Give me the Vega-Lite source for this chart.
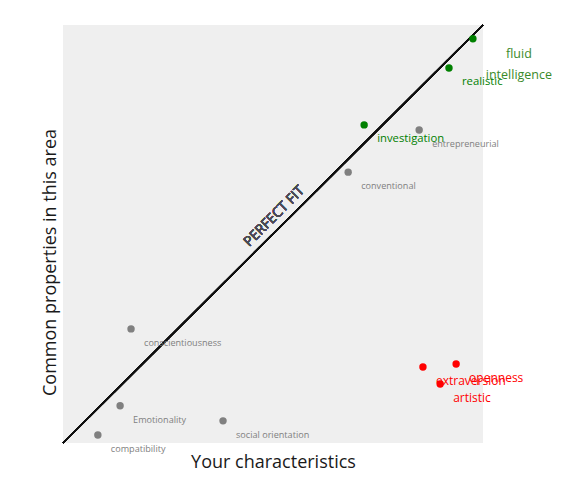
{
  "$schema": "https://vega.github.io/schema/vega-lite/v6.json",
  "autosize": "none",
  "width": 420,
  "height": 418,
  "padding": {"left": 63, "top": 25, "right": 86, "bottom": 41},
  "background": "white",
  "config": {
    "view": {"fill": "#efefef", "stroke": null},
    "font": "Open Sans"
  },
  "data": {
    "values": [
      {"label": "fluid intelligence", "group": "strength", "you": 97.6, "area": 96.7},
      {"label": "realistic", "group": "strength", "you": 91.9, "area": 89.7},
      {"label": "investigation", "group": "strength", "you": 71.7, "area": 76.1},
      {"label": "entrepreneurial", "group": "neutral", "you": 84.8, "area": 74.9},
      {"label": "conventional", "group": "neutral", "you": 67.9, "area": 64.8},
      {"label": "conscientiousness", "group": "neutral", "you": 16.2, "area": 27.3},
      {"label": "Emotionality", "group": "neutral", "you": 13.6, "area": 8.9},
      {"label": "social orientation", "group": "neutral", "you": 38.1, "area": 5.3},
      {"label": "compatibility", "group": "neutral", "you": 8.3, "area": 1.9},
      {"label": "extraversion", "group": "weakness", "you": 85.7, "area": 18.2},
      {"label": "openness", "group": "weakness", "you": 93.6, "area": 18.9},
      {"label": "artistic", "group": "weakness", "you": 89.8, "area": 14.1}
    ]
  },
  "encoding": {
    "x": {
      "field": "you", "type": "quantitative",
      "scale": {"domain": [0, 100], "nice": false, "zero": false},
      "axis": {"title": "Your characteristics", "domain": false, "ticks": false, "labels": false, "grid": false,
               "titleFont": "Open Sans", "titleFontSize": 18, "titleFontWeight": "normal", "titleColor": "#1a1a1a", "titlePadding": 10}
    },
    "y": {
      "field": "area", "type": "quantitative",
      "scale": {"domain": [0, 100], "nice": false, "zero": false},
      "axis": {"title": "Common properties in this area", "domain": false, "ticks": false, "labels": false, "grid": false,
               "titleFont": "Open Sans", "titleFontSize": 18, "titleFontWeight": "normal", "titleColor": "#1a1a1a", "titlePadding": 4, "titleY": 237}
    }
  },
  "layer": [
    {
      "mark": {"type": "rule", "color": "#111111", "strokeWidth": 1.5},
      "encoding": {
        "x": {"datum": 0, "type": "quantitative"},
        "y": {"datum": 0, "type": "quantitative"},
        "x2": {"datum": 100},
        "y2": {"datum": 100}
      }
    },
    {
      "mark": {"type": "text", "text": "PERFECT FIT", "angle": -45, "fontSize": 14, "fontWeight": "normal", "color": "#4a4a55", "align": "center", "baseline": "middle"},
      "encoding": {
        "x": {"datum": 50.3, "type": "quantitative"},
        "y": {"datum": 54.2, "type": "quantitative"}
      }
    },
    {
      "mark": {"type": "circle", "size": 55, "opacity": 1},
      "encoding": {
        "color": {"field": "group", "type": "nominal",
                  "scale": {"domain": ["strength", "neutral", "weakness"], "range": ["#008000", "#808080", "#ff0000"]},
                  "legend": null}
      }
    },
    {
      "transform": [{"filter": "datum.label !== 'fluid intelligence'"}],
      "mark": {"type": "text", "align": "left", "baseline": "middle", "dx": 13, "dy": 14},
      "encoding": {
        "text": {"field": "label"},
        "color": {"field": "group", "type": "nominal",
                  "scale": {"domain": ["strength", "neutral", "weakness"], "range": ["#3a8a2a", "#808080", "#ff1a1a"]},
                  "legend": null},
        "size": {"field": "group", "type": "nominal",
                 "scale": {"type": "ordinal", "domain": ["strength", "neutral", "weakness"], "range": [11.3, 9.1, 12]},
                 "legend": null}
      }
    },
    {
      "transform": [{"filter": "datum.label === 'fluid intelligence'"}],
      "mark": {"type": "text", "align": "center", "baseline": "middle", "dx": 46, "dy": 15, "lineBreak": " ", "lineHeight": 21, "fontSize": 12.5, "color": "#3a8a2a"},
      "encoding": {
        "text": {"field": "label"}
      }
    }
  ]
}
